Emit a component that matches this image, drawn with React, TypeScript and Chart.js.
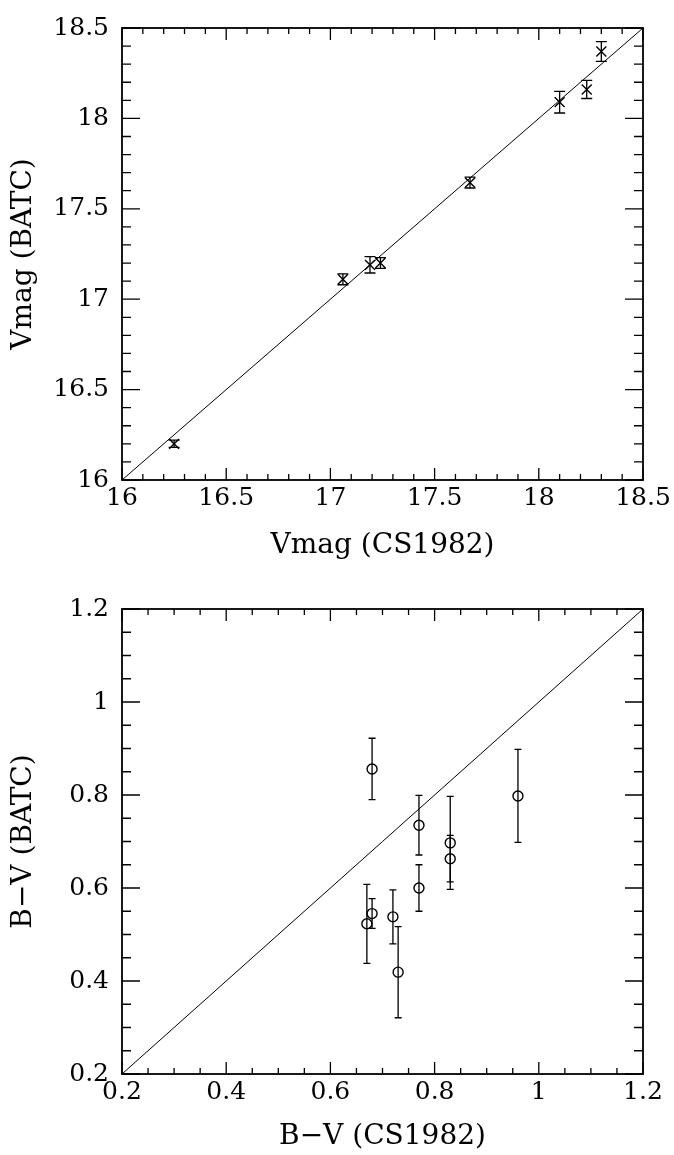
import React, { useEffect, useRef } from "react";
import { Chart, registerables } from "chart.js";

Chart.register(...registerables);

// ---- Top panel: V magnitudes ----
const vmagCS = [16.25, 17.06, 17.19, 17.24, 17.67, 18.1, 18.23, 18.3];
const vmagBATC = [16.2, 17.11, 17.19, 17.2, 17.645, 18.09, 18.16, 18.37];
const vmagErr = [0.02, 0.03, 0.045, 0.03, 0.03, 0.06, 0.05, 0.055];
const vmagTicks = [16, 16.5, 17, 17.5, 18, 18.5];
const vmagRange = [16, 18.5];

// ---- Bottom panel: B-V colours ----
const bvCS = [0.68, 0.77, 0.83, 0.83, 0.77, 0.96, 0.68, 0.67, 0.72, 0.73];
const bvBATC = [0.856, 0.735, 0.697, 0.663, 0.6, 0.798, 0.545, 0.523, 0.538, 0.419];
const bvErr = [0.066, 0.064, 0.1, 0.05, 0.05, 0.1, 0.032, 0.085, 0.058, 0.098];
const bvTicks = [0.2, 0.4, 0.6, 0.8, 1, 1.2];
const bvRange = [0.2, 1.2];

const FONT = "'DejaVu Serif', serif";

const errorBars = {
  id: "errorBars",
  beforeDatasetsDraw(chart: any) {
    const { ctx } = chart;
    const xs = chart.scales.x;
    const ys = chart.scales.y;
    chart.data.datasets.forEach((ds: any) => {
      if (!ds.errs) return;
      ctx.save();
      ctx.strokeStyle = "#000";
      ctx.lineWidth = 1.3;
      ds.data.forEach((p: any, i: number) => {
        const e = ds.errs[i];
        const px = xs.getPixelForValue(p.x);
        const y1 = ys.getPixelForValue(p.y - e);
        const y2 = ys.getPixelForValue(p.y + e);
        const c = ds.capHalf;
        ctx.beginPath();
        ctx.moveTo(px, y1);
        ctx.lineTo(px, y2);
        ctx.moveTo(px - c, y1);
        ctx.lineTo(px + c, y1);
        ctx.moveTo(px - c, y2);
        ctx.lineTo(px + c, y2);
        ctx.stroke();
      });
      ctx.restore();
    });
  },
};

const frameTicks = {
  id: "frameTicks",
  afterDatasetsDraw(chart: any) {
    const o = chart.options.plugins.frameTicks;
    if (!o) return;
    const { ctx, chartArea: a } = chart;
    const xs = chart.scales.x;
    const ys = chart.scales.y;
    ctx.save();
    ctx.strokeStyle = "#000";
    ctx.lineWidth = 1.3;
    ctx.beginPath();
    const nx = Math.round((o.xMax - o.xMin) / o.xStep);
    for (let i = 0; i <= nx; i++) {
      const v = o.xMin + i * o.xStep;
      const px = xs.getPixelForValue(v);
      const L = i % o.xEvery === 0 ? o.xMajorLen : o.xMinorLen;
      ctx.moveTo(px, a.bottom);
      ctx.lineTo(px, a.bottom - L);
      ctx.moveTo(px, a.top);
      ctx.lineTo(px, a.top + L);
    }
    const ny = Math.round((o.yMax - o.yMin) / o.yStep);
    for (let i = 0; i <= ny; i++) {
      const v = o.yMin + i * o.yStep;
      const py = ys.getPixelForValue(v);
      const L = i % o.yEvery === 0 ? o.yMajorLen : o.yMinorLen;
      ctx.moveTo(a.left, py);
      ctx.lineTo(a.left + L, py);
      ctx.moveTo(a.right, py);
      ctx.lineTo(a.right - L, py);
    }
    ctx.stroke();
    ctx.lineWidth = 1.8;
    ctx.strokeRect(a.left, a.top, a.right - a.left, a.bottom - a.top);
    ctx.restore();
  },
};

type PanelProps = {
  top: number;
  height: number;
  padTop: number;
  xs: number[];
  ys: number[];
  errs: number[];
  ticks: number[];
  range: number[];
  minorStep: number;
  minorEvery: number;
  xTitle: string;
  yTitle: string;
  pointStyle: string;
  pointRadius: number;
  capHalf: number;
  xAxisHeight: number;
  xTitlePad: number;
};

function Panel(p: PanelProps) {
  const ref = useRef<HTMLCanvasElement | null>(null);
  useEffect(() => {
    if (!ref.current) return;
    const pts = p.xs.map((x, i) => ({ x, y: p.ys[i] }));
    const fontTick = { family: FONT, size: 25, lineHeight: 1.2 };
    const fontTitle = { family: FONT, size: 28, lineHeight: 1.2 };
    const setTicks = (s: any) => {
      s.ticks = p.ticks.map((v) => ({ value: v }));
    };
    const chart = new Chart(ref.current, {
      type: "scatter",
      data: {
        datasets: [
          {
            data: [
              { x: p.range[0], y: p.range[0] },
              { x: p.range[1], y: p.range[1] },
            ],
            showLine: true,
            borderColor: "#000",
            borderWidth: 1,
            pointRadius: 0,
          } as any,
          {
            data: pts,
            errs: p.errs,
            capHalf: p.capHalf,
            pointStyle: p.pointStyle,
            pointRadius: p.pointRadius,
            borderColor: "#000",
            backgroundColor: "rgba(0,0,0,0)",
            borderWidth: 1.4,
          } as any,
        ],
      },
      options: {
        animation: false,
        responsive: false,
        events: [],
        layout: { padding: { top: p.padTop, right: 31, left: 0, bottom: 0 } },
        plugins: {
          legend: { display: false },
          tooltip: { enabled: false },
          frameTicks: {
            xMin: p.range[0],
            xMax: p.range[1],
            xStep: p.minorStep,
            xEvery: p.minorEvery,
            yMin: p.range[0],
            yMax: p.range[1],
            yStep: p.minorStep,
            yEvery: p.minorEvery,
            xMajorLen: 12,
            xMinorLen: 6,
            yMajorLen: 18,
            yMinorLen: 9,
          },
        } as any,
        scales: {
          x: {
            type: "linear",
            min: p.range[0],
            max: p.range[1],
            grid: { display: false, drawTicks: false },
            border: { display: false },
            afterBuildTicks: setTicks,
            afterFit: (s: any) => {
              s.height = p.xAxisHeight;
            },
            ticks: {
              padding: 3,
              color: "#000",
              font: fontTick,
              maxRotation: 0,
              autoSkip: false,
              callback: (v: any) => String(v),
            },
            title: {
              display: true,
              text: p.xTitle,
              color: "#000",
              font: fontTitle,
              padding: { top: 0, bottom: p.xTitlePad },
            },
          },
          y: {
            type: "linear",
            min: p.range[0],
            max: p.range[1],
            grid: { display: false, drawTicks: false },
            border: { display: false },
            afterBuildTicks: setTicks,
            afterFit: (s: any) => {
              s.width = 122;
            },
            ticks: {
              padding: 13,
              color: "#000",
              font: fontTick,
              autoSkip: false,
              callback: (v: any) => String(v),
            },
            title: {
              display: true,
              text: p.yTitle,
              color: "#000",
              font: fontTitle,
              padding: { top: 7, bottom: 0 },
            },
          },
        },
      } as any,
      plugins: [errorBars, frameTicks],
    });
    return () => chart.destroy();
  }, []);
  return (
    <canvas
      ref={ref}
      width={674}
      height={p.height}
      style={{
        position: "absolute",
        left: 0,
        top: p.top,
        width: 674,
        height: p.height,
        display: "block",
      }}
    />
  );
}

export default function App() {
  return (
    <div
      style={{
        position: "absolute",
        left: 0,
        top: 0,
        width: 674,
        height: 1155,
        background: "#fff",
      }}
    >
      <Panel
        top={0}
        height={570}
        padTop={19}
        xs={vmagCS}
        ys={vmagBATC}
        errs={vmagErr}
        ticks={vmagTicks}
        range={vmagRange}
        minorStep={0.1}
        minorEvery={5}
        xTitle="Vmag (CS1982)"
        yTitle="Vmag (BATC)"
        pointStyle="crossRot"
        pointRadius={7}
        capHalf={5.5}
        xAxisHeight={90}
        xTitlePad={7}
      />
      <Panel
        top={575}
        height={580}
        padTop={34}
        xs={bvCS}
        ys={bvBATC}
        errs={bvErr}
        ticks={bvTicks}
        range={bvRange}
        minorStep={0.05}
        minorEvery={4}
        xTitle="B−V (CS1982)"
        yTitle="B−V (BATC)"
        pointStyle="circle"
        pointRadius={5}
        capHalf={3.5}
        xAxisHeight={81}
        xTitlePad={1}
      />
    </div>
  );
}
